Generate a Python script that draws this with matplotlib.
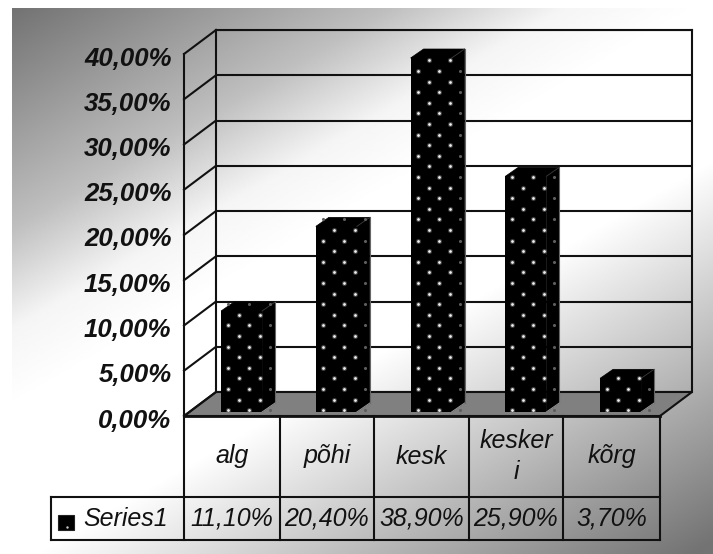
import numpy as np
import matplotlib
matplotlib.use("Agg")
import matplotlib.pyplot as plt
from matplotlib.patches import Polygon, Rectangle
from matplotlib.transforms import ScaledTranslation

plt.rcParams['font.family'] = ['Liberation Sans', 'DejaVu Sans']

categories = ['alg', 'põhi', 'kesk', 'kesker\ni', 'kõrg']
values = [11.10, 20.40, 38.90, 25.90, 3.70]
table_labels = ['11,10%', '20,40%', '38,90%', '25,90%', '3,70%']
series_name = 'Series1'
y_ticks = [0, 5, 10, 15, 20, 25, 30, 35, 40]
y_tick_labels = ['0,00%', '5,00%', '10,00%', '15,00%', '20,00%',
                 '25,00%', '30,00%', '35,00%', '40,00%']

W, H = 713, 554
fig = plt.figure(figsize=(W / 100, H / 100), dpi=100, facecolor='white')


def axes_px(x0, y_top, x1, y_bottom, **kw):
    # axes from pixel box, y measured from the top of the image
    return fig.add_axes([x0 / W, 1 - y_bottom / H, (x1 - x0) / W, (y_bottom - y_top) / H], **kw)


# background gradient: dark at top left and bottom right, white band between
bg = axes_px(12, 8, W, H, zorder=0)
yy, xx = np.mgrid[8:H:270j, 12:W:350j]
t = (xx - 12) / 688 + (yy - 8) / 400
light = np.interp(t, [0, 0.55, 0.8, 1, 1.4, 2.36], [0.45, 0.75, 0.96, 1, 1, 0.45])
bg.imshow(light, cmap='gray', vmin=0, vmax=1, aspect='auto', extent=[0, 1, 0, 1], origin='upper')
bg.axis('off')

# chart furniture in pixel coordinates
chrome = axes_px(0, 0, W, H, zorder=1)
chrome.set_xlim(0, W)
chrome.set_ylim(H, 0)
chrome.axis('off')
chrome.patch.set_alpha(0)

col_x = [184, 280, 374, 469, 563, 660]
floor_front, floor_back = 416, 392
dx_wall, top_front, top_back = 32, 54, 30
chrome.add_patch(Polygon([(col_x[0], floor_front), (col_x[-1], floor_front),
                          (col_x[-1] + dx_wall, floor_back), (col_x[0] + dx_wall, floor_back)],
                         closed=True, facecolor='#808080', edgecolor='#111111', lw=1.5))

# slanted lines on the side wall, one per tick
for v in y_ticks:
    yf = floor_front - (floor_front - top_front) * v / 40
    yb = floor_back - (floor_back - top_back) * v / 40
    chrome.plot([col_x[0], col_x[0] + dx_wall], [yf, yb], color='#111111', lw=1.5)

# table grid
row_top, row_mid, row_bottom = floor_front, 497, 540
left_x = 51
lc = '#111111'
chrome.plot([col_x[0], col_x[-1]], [row_top, row_top], color=lc, lw=2)
chrome.plot([left_x, col_x[-1]], [row_mid, row_mid], color=lc, lw=1.5)
chrome.plot([left_x, col_x[-1]], [row_bottom, row_bottom], color=lc, lw=1.5)
chrome.plot([left_x, left_x], [row_mid, row_bottom], color=lc, lw=1.5)
for x in col_x:
    chrome.plot([x, x], [row_top, row_bottom], color=lc, lw=1.5)

font = dict(style='italic', fontsize=18, color='#111111', ha='center', va='center')
for i, (cat, lab) in enumerate(zip(categories, table_labels)):
    xc = (col_x[i] + col_x[i + 1]) / 2
    chrome.text(xc, (row_top + row_mid) / 2, cat, linespacing=1.35, **font)
    chrome.text(xc, (row_mid + row_bottom) / 2, lab, **font)
chrome.add_patch(Rectangle((58, 515), 16, 15, facecolor='black', edgecolor='#222222', lw=0.8))
chrome.scatter([67], [527], s=3, color='#cccccc', linewidths=0)
chrome.text(126, 519, series_name, **font)

# back wall with its gridlines
wall = axes_px(col_x[0] + dx_wall, top_back, col_x[-1] + dx_wall, floor_back, zorder=1.2)
wall.patch.set_alpha(0)
wall.set_ylim(0, 40)
wall.set_xlim(0, 1)
wall.set_xticks([])
wall.set_yticks(y_ticks)
wall.set_yticklabels([])
wall.tick_params(length=0)
wall.grid(axis='y', color='#111111', lw=1.5)
wall.spines['bottom'].set_visible(False)
for s in ['top', 'left', 'right']:
    wall.spines[s].set_linewidth(1.5)
    wall.spines[s].set_color('#111111')

# front axis carrying the tick labels
front = axes_px(col_x[0], top_front, col_x[0] + 1, floor_front, zorder=1.3)
front.patch.set_alpha(0)
front.set_ylim(0, 40)
front.set_xticks([])
front.set_yticks(y_ticks)
front.set_yticklabels(y_tick_labels, fontsize=18.5, fontweight='bold', style='italic', color='#111111')
front.tick_params(axis='y', length=0, pad=9)
shift = ScaledTranslation(0, -2 / 100, fig.dpi_scale_trans)
for lab in front.get_yticklabels():
    lab.set_transform(lab.get_transform() + shift)
for s in ['top', 'right', 'bottom']:
    front.spines[s].set_visible(False)
front.spines['left'].set_linewidth(1.5)
front.spines['left'].set_color('#111111')

# bars, in their own plane set slightly inside the floor
px_per_cat = 94.75
px_per_pct = 9.1
ax = axes_px(194.2, 412 - 40 * px_per_pct, 194.2 + 5 * px_per_cat, 412, zorder=2)
ax.patch.set_alpha(0)
ax.set_xlim(-0.5, 4.5)
ax.set_ylim(0, 40)
ax.axis('off')

bar_w = 41 / px_per_cat
dx = 13 / px_per_cat
dy = 9 / px_per_pct
x_pos = np.arange(len(values))
ax.bar(x_pos, values, width=bar_w, color='black', linewidth=0)

for x, v in zip(x_pos, values):
    l, r = x - bar_w / 2, x + bar_w / 2
    ax.add_patch(Polygon([(l, v), (l + dx, v + dy), (r + dx, v + dy), (r, v)],
                         closed=True, facecolor='black', edgecolor='black', lw=0.5, clip_on=False))
    ax.add_patch(Polygon([(r, 0), (r + dx, dy), (r + dx, v + dy), (r, v)],
                         closed=True, facecolor='black', edgecolor='black', lw=0.5, clip_on=False))
    # faint light edges on the side face
    ax.plot([r + dx, r + dx], [dy, v + dy], color='#666666', lw=0.8, clip_on=False)
    ax.plot([r, r + dx], [0, dy], color='#999999', lw=0.7, clip_on=False)
    ax.plot([r, r + dx], [v, v + dy], color='#3a3a3a', lw=0.6, clip_on=False)
    # dotted fill pattern, staggered rows
    pts = []
    for k in range(0, 90):
        row = k * 10.6 / px_per_pct + 0.2
        if row > v + dy * 0.9:
            break
        cols = [7, 28, 49] if k % 2 == 0 else [18, 39]
        for c in cols:
            pts.append((l + c / px_per_cat, row))
    pts = np.array(pts)
    on_side = pts[:, 0] > r
    on_top = pts[:, 1] > v
    hi = ~on_side & ~on_top
    ax.scatter(pts[hi, 0], pts[hi, 1], s=14, color='#777777', alpha=0.5, linewidths=0, clip_on=False, zorder=4)
    ax.scatter(pts[hi, 0], pts[hi, 1], s=4, color='#eeeeee', linewidths=0, clip_on=False, zorder=5)
    ax.scatter(pts[~hi, 0], pts[~hi, 1], s=5, color='#5e5e5e', linewidths=0, clip_on=False, zorder=4)

fig.savefig('out.png', dpi=100)
